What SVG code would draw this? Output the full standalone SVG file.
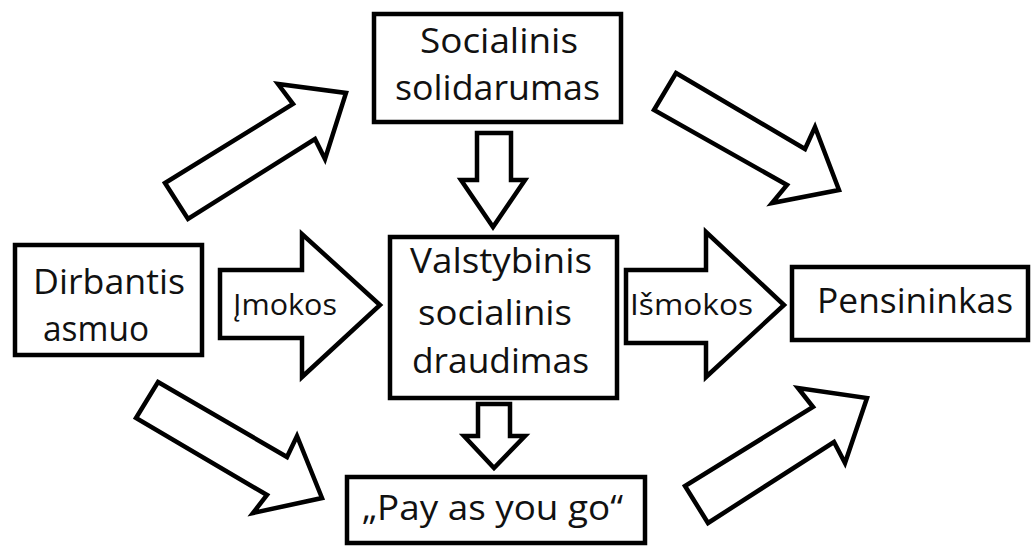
<svg xmlns="http://www.w3.org/2000/svg" width="1031" height="546" viewBox="0 0 1031 546">
<style>
.box{fill:#fff;stroke:#000;stroke-width:4.5}
.arr{fill:#fff;stroke:#000;stroke-width:4.5;stroke-linejoin:miter}
.t{font-family:"Open Sans","Noto Sans","Liberation Sans",sans-serif;font-size:34px;fill:#111}
.s{font-family:"Open Sans","Noto Sans","Liberation Sans",sans-serif;font-size:29px;fill:#111}
</style>
<rect width="1031" height="546" fill="#fff"/>
<g id="connectors">
<polygon class="arr" points="165,183 188,219 315,139 325,159 346,93 278,84 293,104"/>
<polygon class="arr" points="676,73 805,149 815,127 839,190 772,203 787,185 654,110"/>
<polygon class="arr" points="158,382 287,457 297,436 322,498 253,513 267,495 136,418"/>
<polygon class="arr" points="685,486 708,523 834,442 845,463 867,398 798,388 813,407"/>
<polygon class="arr" points="477,133 511,133 511,180 525,180 493,227 461,180 477,180"/>
<polygon class="arr" points="478,404 510,404 510,436 525,436 494,468 464,436 478,436"/>
<g id="imokos">
<polygon class="arr" points="220,270 302,270 302,234 380,305 302,377 302,338 220,338"/>
<text class="s" x="233" y="315" textLength="104" lengthAdjust="spacingAndGlyphs">Įmokos</text>
</g>
<g id="ismokos">
<polygon class="arr" points="626,270 706,270 706,232 784,305 706,377 706,343 626,343"/>
<text class="s" x="630" y="315" textLength="123" lengthAdjust="spacingAndGlyphs">Išmokos</text>
</g>
</g>
<g id="node-socialinis">
<rect class="box" x="374" y="14" width="247" height="108"/>
<text class="t" x="420" y="53" textLength="158" lengthAdjust="spacingAndGlyphs">Socialinis</text>
<text class="t" x="395" y="100" textLength="205" lengthAdjust="spacingAndGlyphs">solidarumas</text>
</g>
<g id="node-vsd">
<rect class="box" x="390" y="237" width="227" height="161"/>
<text class="t" x="410" y="273" textLength="182" lengthAdjust="spacingAndGlyphs">Valstybinis</text>
<text class="t" x="418" y="325" textLength="154" lengthAdjust="spacingAndGlyphs">socialinis</text>
<text class="t" x="412" y="373" textLength="177" lengthAdjust="spacingAndGlyphs">draudimas</text>
</g>
<g id="node-dirbantis">
<rect class="box" x="15" y="245" width="187" height="110"/>
<text class="t" x="33" y="294" textLength="152" lengthAdjust="spacingAndGlyphs">Dirbantis</text>
<text class="t" x="43" y="341" textLength="106" lengthAdjust="spacingAndGlyphs">asmuo</text>
</g>
<g id="node-pensininkas">
<rect class="box" x="792" y="267" width="236" height="73"/>
<text class="t" x="817" y="313" textLength="196" lengthAdjust="spacingAndGlyphs">Pensininkas</text>
</g>
<g id="node-payg">
<rect class="box" x="347" y="477" width="298" height="66"/>
<text class="t" x="362" y="520" textLength="261" lengthAdjust="spacingAndGlyphs">„Pay as you go“</text>
</g>
</svg>
